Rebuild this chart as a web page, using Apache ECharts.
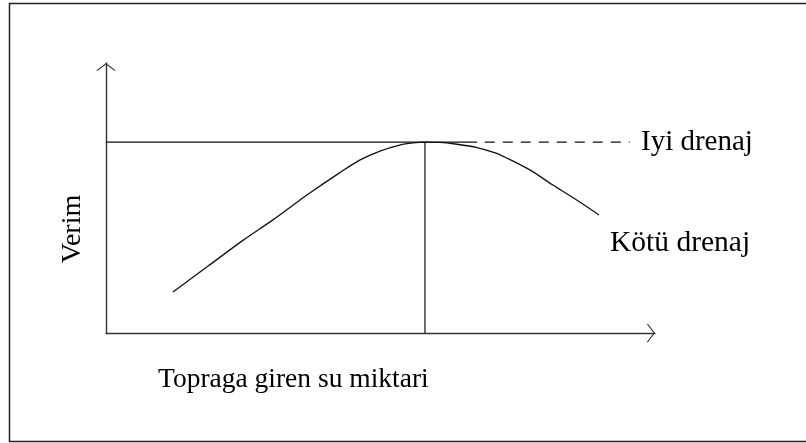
<!DOCTYPE html>
<html>
<head>
<meta charset="utf-8">
<script src="https://cdn.jsdelivr.net/npm/echarts@6/dist/echarts.min.js"></script>
<style>
html,body{margin:0;padding:0;background:#fff;}
#chart{width:806px;height:443px;}
</style>
</head>
<body>
<div id="chart"></div>
<script>
// Water entering soil (x, arbitrary units 0-10) and yield (y, 0-10)
const waterAmount = [1.22, 1.86, 2.50, 3.04, 3.66, 4.26, 4.63, 4.99, 5.35, 5.59, 5.81, 6.08, 6.36, 6.76, 7.09, 7.30, 7.72, 8.14, 8.63, 8.98];
const yieldPoorDrainage = [1.52, 2.48, 3.44, 4.19, 5.11, 5.94, 6.41, 6.74, 6.96, 7.04, 7.07, 7.06, 7.00, 6.87, 6.67, 6.48, 6.04, 5.48, 4.85, 4.37];
const goodDrainageLevel = 7.07;
const goodSolidX = [0, 6.76];
const goodDashX = [6.9, 9.54];
const optimumWater = 5.81;
const axisMax = [10, 10];
const xAxisTitle = 'Topraga giren su miktari';
const yAxisTitle = 'Verim';
const goodLabel = 'Iyi drenaj';
const poorLabel = 'Kötü drenaj';

const chevron = 'path://M0,7.6 L10,0 L20,7.6 L19.2,8.4 L10,1.5 L0.8,8.4 Z';
const serif = '"Liberation Serif", "Times New Roman", serif';

const chart = echarts.init(document.getElementById('chart'), null, {renderer: 'canvas'});
const axisCommon = {
  type: 'value', min: 0,
  splitLine: {show: false}, axisTick: {show: false}, axisLabel: {show: false},
  axisLine: {show: true, onZero: false, symbol: ['none', chevron], symbolSize: [19, 8.4], symbolOffset: [0, -4],
    lineStyle: {color: '#333', width: 1.4}}
};
chart.setOption({
  animation: false,
  backgroundColor: '#fff',
  grid: {left: 106, right: 151, top: 63, bottom: 110},
  xAxis: Object.assign({}, axisCommon, {max: axisMax[0]}),
  yAxis: Object.assign({}, axisCommon, {max: axisMax[1]}),
  series: [
    {
      type: 'line', name: poorLabel, smooth: 0.3, symbol: 'none',
      data: waterAmount.map((x, i) => [x, yieldPoorDrainage[i]]),
      lineStyle: {color: '#111', width: 1.3}
    },
    {
      type: 'line', symbol: 'none',
      data: goodSolidX.map(x => [x, goodDrainageLevel]),
      lineStyle: {color: '#111', width: 1.2}
    },
    {
      type: 'line', symbol: 'none',
      data: goodDashX.map(x => [x, goodDrainageLevel]),
      lineStyle: {color: '#111', width: 1.2, type: [10, 8]}
    },
    {
      type: 'line', symbol: 'none',
      data: [[optimumWater, 0], [optimumWater, goodDrainageLevel]],
      lineStyle: {color: '#111', width: 1.2}
    }
  ],
  graphic: [
    {type: 'rect', shape: {x: 9.5, y: 3.5, width: 830, height: 438}, style: {fill: 'none', stroke: '#222', lineWidth: 1.5}, silent: true},
    {type: 'text', x: 158, y: 380, style: {text: xAxisTitle, font: '27.5px ' + serif, fill: '#000', align: 'left', verticalAlign: 'middle'}},
    {type: 'text', x: 73, y: 229, rotation: Math.PI / 2, style: {text: yAxisTitle, font: '28px ' + serif, fill: '#000', align: 'center', verticalAlign: 'middle'}},
    {type: 'text', x: 641, y: 142, style: {text: goodLabel, font: '29px ' + serif, fill: '#000', align: 'left', verticalAlign: 'middle'}},
    {type: 'text', x: 610, y: 243, style: {text: poorLabel, font: '29.5px ' + serif, fill: '#000', align: 'left', verticalAlign: 'middle'}}
  ]
});
</script>
</body>
</html>
